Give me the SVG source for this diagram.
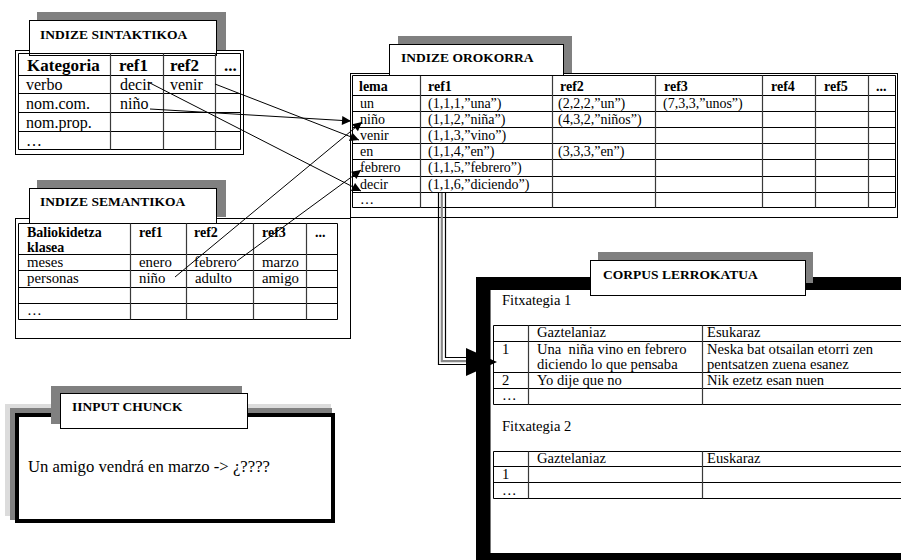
<svg xmlns="http://www.w3.org/2000/svg" width="901" height="560" viewBox="0 0 901 560" font-family="Liberation Serif, Times New Roman, DejaVu Serif, serif">
  <defs>
    <style>
      text { font-family: "Liberation Serif", "Times New Roman", "DejaVu Serif", serif; fill: #000; }
      .ttl { font-weight: bold; font-size: 13.5px; }
      .hd { font-weight: bold; font-size: 14px; }
      .c { font-size: 14px; }
      .cs { font-size: 14.8px; }
      .cc { font-size: 14.6px; }
      .big { font-size: 16px; }
      .bighd { font-weight: bold; font-size: 17px; }
      .frame { fill: #fff; stroke: #000; stroke-width: 1; }
      .label { fill: #fff; stroke: #000; stroke-width: 1; }
      .shadow { fill: #808080; }
      .grid { stroke: #000; stroke-width: 1; fill: none; }
      .vgrid { stroke: #3a3a3a; stroke-width: 1.2; fill: none; }
      .link { stroke: #000; stroke-width: 1; fill: none; marker-end: url(#ah); }
    </style>
    <marker id="ah" viewBox="0 0 10 10" refX="10" refY="5" markerWidth="12" markerHeight="9" markerUnits="userSpaceOnUse" orient="auto">
      <path d="M0,0 L10,5 L0,10 z" fill="#000"/>
    </marker>
  </defs>
  <rect width="901" height="560" fill="#fff"/>

  <!-- Syntactic index -->
  <g id="indize-sintaktikoa">
    <rect class="frame" x="15.5" y="50.5" width="228" height="104"/>
    <rect class="shadow" x="37" y="12" width="189" height="38"/>
    <rect class="label" x="29.5" y="20.5" width="187" height="35"/>
    <text class="ttl" x="40" y="39">INDIZE SINTAKTIKOA</text>
    <path class="grid" d="M18.5,53.5 H240.5 V149.5 H18.5 Z M18.5,75.5 H240.5 M18.5,93.5 H240.5 M18.5,112.5 H240.5 M18.5,131.5 H240.5"/>
    <path class="vgrid" d="M110.5,53.5 V149.5 M163.5,53.5 V149.5 M215.5,53.5 V149.5"/>
    <text class="bighd" x="27" y="71">Kategoria</text>
    <text class="bighd" x="119" y="71">ref1</text>
    <text class="bighd" x="170" y="71">ref2</text>
    <text class="bighd" x="224" y="71">...</text>
    <text class="big" x="26" y="90">verbo</text>
    <text class="big" x="120" y="90">decir</text>
    <text class="big" x="170" y="90">venir</text>
    <text class="big" x="26" y="109">nom.com.</text>
    <text class="big" x="120" y="109">niño</text>
    <text class="big" x="26" y="128">nom.prop.</text>
    <text class="big" x="26" y="146">…</text>
  </g>

  <!-- Semantic index -->
  <g id="indize-semantikoa">
    <rect class="frame" x="15.5" y="218.5" width="335" height="120"/>
    <rect class="shadow" x="37" y="180" width="189" height="37"/>
    <rect class="label" x="29.5" y="188.5" width="187" height="35"/>
    <text class="ttl" x="40" y="206">INDIZE SEMANTIKOA</text>
    <path class="grid" d="M18.5,223.5 H337.5 V319.5 H18.5 Z M18.5,254.5 H337.5 M18.5,270.5 H337.5 M18.5,287.5 H337.5 M18.5,303.5 H337.5"/>
    <path class="vgrid" d="M130.5,223.5 V319.5 M186.5,223.5 V319.5 M253.5,223.5 V319.5 M306.5,223.5 V319.5"/>
    <text class="hd" x="27" y="237">Baliokidetza</text>
    <text class="hd" x="27" y="252">klasea</text>
    <text class="hd" x="139" y="237">ref1</text>
    <text class="hd" x="194" y="237">ref2</text>
    <text class="hd" x="262" y="237">ref3</text>
    <text class="hd" x="315" y="237">...</text>
    <text class="cs" x="27" y="267">meses</text>
    <text class="cs" x="139" y="267">enero</text>
    <text class="cs" x="194" y="267">febrero</text>
    <text class="cs" x="262" y="267">marzo</text>
    <text class="cs" x="27" y="283">personas</text>
    <text class="cs" x="139" y="283">niño</text>
    <text class="cs" x="195" y="283">adulto</text>
    <text class="cs" x="262" y="283">amigo</text>
    <text class="cs" x="27" y="315">…</text>
  </g>

  <!-- General index -->
  <g id="indize-orokorra">
    <rect class="frame" x="350.5" y="73.5" width="547" height="144"/>
    <path class="grid" d="M352.5,75.5 H895.5 V207.5 H352.5 Z M352.5,95.5 H895.5 M352.5,111.5 H895.5 M352.5,127.5 H895.5 M352.5,143.5 H895.5 M352.5,159.5 H895.5 M352.5,176.5 H895.5 M352.5,192.5 H895.5"/>
    <path class="vgrid" d="M420.5,75.5 V207.5 M552.5,75.5 V207.5 M655.5,75.5 V207.5 M762.5,75.5 V207.5 M815.5,75.5 V207.5 M868.5,75.5 V207.5"/>
    <rect class="shadow" x="398" y="36" width="174" height="37"/>
    <rect class="label" x="389.5" y="44.5" width="174" height="31"/>
    <text class="ttl" x="401" y="62">INDIZE OROKORRA</text>
    <text class="hd" x="359" y="91">lema</text>
    <text class="hd" x="428" y="91">ref1</text>
    <text class="hd" x="560" y="91">ref2</text>
    <text class="hd" x="664" y="91">ref3</text>
    <text class="hd" x="771" y="91">ref4</text>
    <text class="hd" x="824" y="91">ref5</text>
    <text class="hd" x="876" y="91">...</text>
    <text class="c" x="360" y="108">un</text>
    <text class="c" x="360" y="124">niño</text>
    <text class="c" x="360" y="140">venir</text>
    <text class="c" x="360" y="156">en</text>
    <text class="c" x="360" y="172">febrero</text>
    <text class="c" x="360" y="189">decir</text>
    <text class="c" x="360" y="204">…</text>
    <text class="c" x="428" y="108">(1,1,1,”una”)</text>
    <text class="c" x="428" y="124">(1,1,2,”niña”)</text>
    <text class="c" x="428" y="140">(1,1,3,”vino”)</text>
    <text class="c" x="428" y="156">(1,1,4,”en”)</text>
    <text class="c" x="428" y="172">(1,1,5,”febrero”)</text>
    <text class="c" x="428" y="189">(1,1,6,”diciendo”)</text>
    <text class="c" x="558" y="108">(2,2,2,”un”)</text>
    <text class="c" x="558" y="124">(4,3,2,”niños”)</text>
    <text class="c" x="558" y="156">(3,3,3,”en”)</text>
    <text class="c" x="663" y="108">(7,3,3,”unos”)</text>
  </g>

  <!-- Aligned corpus -->
  <g id="corpus-lerrokatua">
    <rect x="476" y="277" width="440" height="290" fill="#000"/>
    <rect x="490" y="290" width="420" height="263" fill="#fff"/>
    <line x1="490.5" y1="290" x2="490.5" y2="553" stroke="#777"/>
    <rect class="shadow" x="598" y="252" width="215" height="31"/>
    <rect class="label" x="590.5" y="260.5" width="215" height="35"/>
    <text class="ttl" x="603" y="279">CORPUS LERROKATUA</text>
    <text class="cc" x="502" y="305">Fitxategia 1</text>
    <path class="grid" d="M493.5,325.5 H905 M493.5,341.5 H905 M493.5,372.5 H905 M493.5,388.5 H905 M493.5,404.5 H905 M493.5,325.5 V404.5"/>
    <path class="vgrid" d="M528.5,325.5 V404.5 M702.5,325.5 V404.5"/>
    <text class="cc" x="537" y="337">Gaztelaniaz</text>
    <text class="cc" x="707" y="337">Esukaraz</text>
    <text class="cc" x="502" y="354">1</text>
    <text class="cc" x="537" y="354" xml:space="preserve">Una  niña vino en febrero</text>
    <text class="cc" x="537" y="369">diciendo lo que pensaba</text>
    <text class="cc" x="707" y="354">Neska bat otsailan etorri zen</text>
    <text class="cc" x="707" y="369">pentsatzen zuena esanez</text>
    <text class="cc" x="502" y="385">2</text>
    <text class="cc" x="537" y="385">Yo dije que no</text>
    <text class="cc" x="707" y="385">Nik ezetz esan nuen</text>
    <text class="cc" x="502" y="400">…</text>
    <text class="cc" x="502" y="431">Fitxategia 2</text>
    <path class="grid" d="M493.5,451.5 H905 M493.5,466.5 H905 M493.5,482.5 H905 M493.5,498.5 H905 M493.5,451.5 V498.5"/>
    <path class="vgrid" d="M528.5,451.5 V498.5 M702.5,451.5 V498.5"/>
    <text class="cc" x="537" y="463">Gaztelaniaz</text>
    <text class="cc" x="707" y="463">Euskaraz</text>
    <text class="cc" x="502" y="479">1</text>
    <text class="cc" x="502" y="495">…</text>
  </g>

  <!-- Input chunk -->
  <g id="input-chunck">
    <rect x="5" y="404" width="326" height="112" fill="#dcdcdc"/>
    <rect x="10" y="408" width="322" height="112" fill="#808080"/>
    <rect x="17" y="415" width="316" height="106" fill="#fff" stroke="#000" stroke-width="4"/>
    <rect class="shadow" x="51" y="386" width="191" height="38"/>
    <rect class="label" x="60.5" y="393.5" width="187" height="35"/>
    <text class="ttl" x="72" y="411">IINPUT CHUNCK</text>
    <text x="28" y="472" font-size="16.7">Un amigo vendrá en marzo -&gt; ¿????</text>
  </g>

  <!-- Connectors -->
  <g id="connectors">
    <path class="link" d="M150,109 L351,121"/>
    <path class="link" d="M148,82 L361,191"/>
    <path class="link" d="M215,84 L359,140"/>
    <path class="link" d="M175,277 L362,122"/>
    <path class="link" d="M237,261 L361,170"/>
    <!-- double line to the corpus -->
    <path d="M438.5,193 V364.5 H468" stroke="#000" stroke-width="1.2" fill="none"/>
    <path d="M441.8,193 V361.2 H468" stroke="#888" stroke-width="2.2" fill="none"/>
    <path d="M445.5,193 V357.5 H468" stroke="#000" stroke-width="1.2" fill="none"/>
    <path d="M466,348 L497,362 L466,376 Z" fill="#000"/>
  </g>
</svg>
